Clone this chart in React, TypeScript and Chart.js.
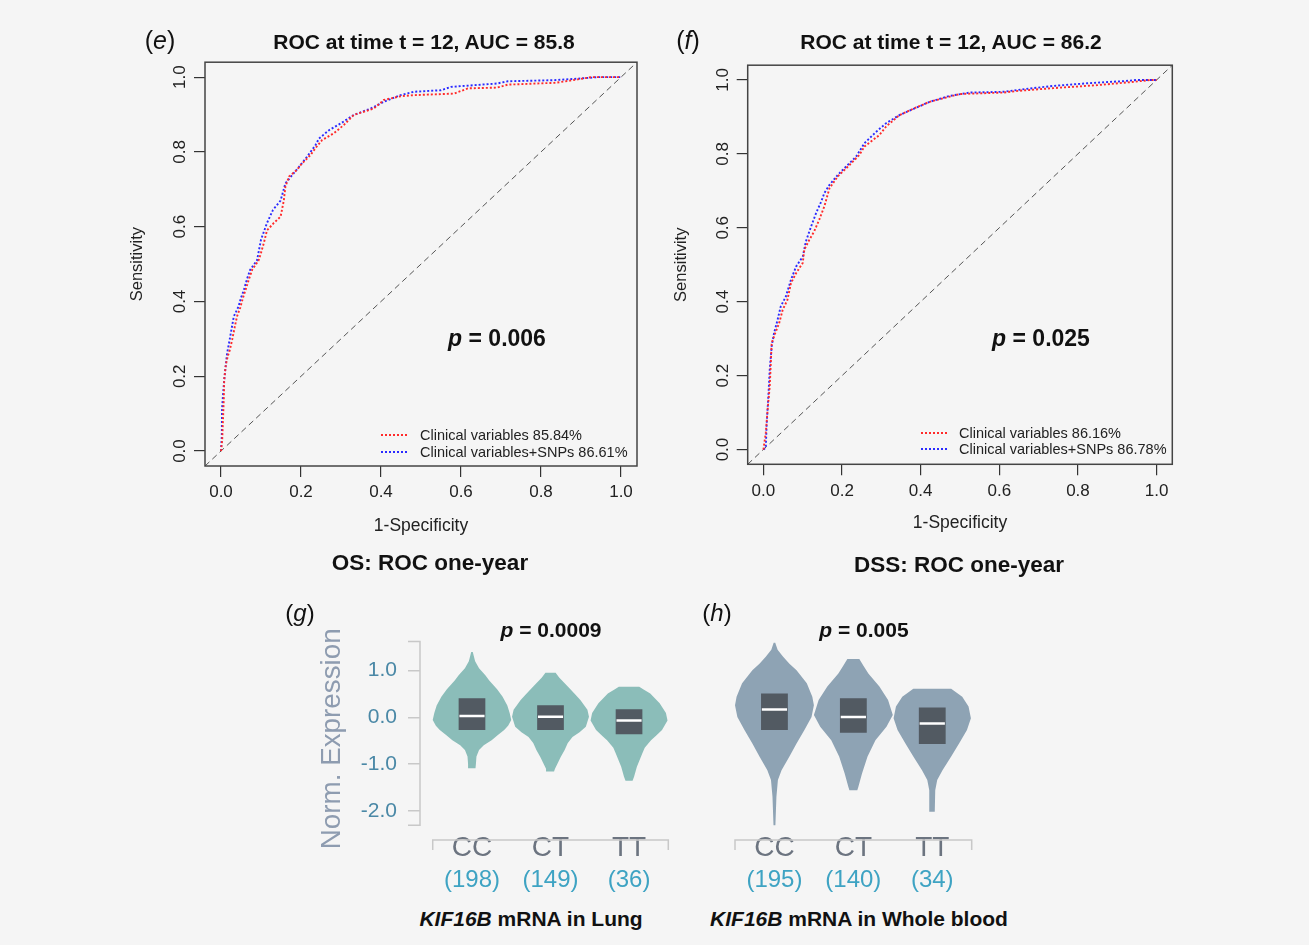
import React, { useEffect, useRef } from 'react';
import { Chart, registerables } from 'chart.js';

Chart.register(...registerables);

const FONT = '"Liberation Sans", Arial, Helvetica, sans-serif';
Chart.defaults.font.family = FONT;

// ---------- ROC data ----------
const ROC_TICKS = [0, 0.2, 0.4, 0.6, 0.8, 1.0];
const ROC_RANGE = [-0.04, 1.04];

const E_RED_X = [0, 0.003, 0.005, 0.007, 0.008, 0.012, 0.017, 0.022, 0.028, 0.034, 0.04, 0.048, 0.055, 0.061, 0.07, 0.078, 0.094, 0.1, 0.107, 0.115, 0.132, 0.149, 0.157, 0.161, 0.17, 0.19, 0.199, 0.224, 0.236, 0.253, 0.282, 0.307, 0.332, 0.382, 0.407, 0.449, 0.483, 0.583, 0.617, 0.69, 0.717, 0.837, 0.892, 0.925, 1.0];
const E_RED_Y = [0, 0.03, 0.085, 0.14, 0.19, 0.23, 0.254, 0.27, 0.298, 0.33, 0.36, 0.383, 0.41, 0.43, 0.46, 0.485, 0.51, 0.53, 0.556, 0.59, 0.61, 0.627, 0.67, 0.707, 0.734, 0.752, 0.765, 0.792, 0.81, 0.832, 0.85, 0.872, 0.899, 0.916, 0.939, 0.949, 0.952, 0.956, 0.97, 0.972, 0.98, 0.985, 0.994, 1.0, 1.0];
const E_BLUE_X = [0, 0.002, 0.0025, 0.005, 0.008, 0.015, 0.022, 0.032, 0.044, 0.05, 0.057, 0.065, 0.073, 0.09, 0.1, 0.115, 0.13, 0.149, 0.161, 0.178, 0.199, 0.215, 0.236, 0.245, 0.27, 0.299, 0.332, 0.374, 0.407, 0.449, 0.483, 0.55, 0.575, 0.69, 0.717, 0.834, 0.892, 0.942, 1.0];
const E_BLUE_Y = [0, 0.04, 0.11, 0.15, 0.19, 0.26, 0.3, 0.36, 0.387, 0.41, 0.43, 0.46, 0.485, 0.51, 0.565, 0.61, 0.645, 0.67, 0.716, 0.738, 0.765, 0.787, 0.818, 0.836, 0.858, 0.876, 0.899, 0.916, 0.934, 0.952, 0.961, 0.965, 0.974, 0.983, 0.989, 0.992, 0.996, 1.0, 1.0];

const F_RED_X = [0, 0.006, 0.01, 0.016, 0.018, 0.021, 0.03, 0.04, 0.049, 0.061, 0.07, 0.083, 0.1, 0.104, 0.117, 0.129, 0.142, 0.155, 0.168, 0.189, 0.219, 0.244, 0.257, 0.295, 0.312, 0.346, 0.389, 0.423, 0.474, 0.5, 0.61, 0.653, 0.738, 0.849, 0.942, 0.985, 1.0];
const F_RED_Y = [0, 0.045, 0.099, 0.171, 0.216, 0.288, 0.315, 0.342, 0.378, 0.405, 0.45, 0.477, 0.505, 0.541, 0.568, 0.59, 0.622, 0.658, 0.707, 0.739, 0.77, 0.797, 0.82, 0.851, 0.874, 0.905, 0.926, 0.941, 0.955, 0.962, 0.966, 0.971, 0.978, 0.986, 0.995, 1.0, 1.0];
const F_BLUE_X = [0, 0.006, 0.008, 0.013, 0.016, 0.021, 0.027, 0.036, 0.044, 0.057, 0.07, 0.083, 0.1, 0.108, 0.121, 0.134, 0.147, 0.155, 0.168, 0.189, 0.219, 0.236, 0.257, 0.287, 0.312, 0.346, 0.38, 0.423, 0.474, 0.525, 0.61, 0.678, 0.738, 0.823, 0.917, 0.95, 1.0];
const F_BLUE_Y = [0, 0.005, 0.063, 0.153, 0.216, 0.28, 0.315, 0.351, 0.387, 0.414, 0.459, 0.495, 0.522, 0.563, 0.603, 0.64, 0.671, 0.694, 0.716, 0.743, 0.775, 0.793, 0.829, 0.86, 0.883, 0.905, 0.921, 0.941, 0.957, 0.966, 0.968, 0.977, 0.984, 0.991, 0.997, 1.0, 1.0];

// ---------- Violin data ----------
const CATEGORIES = ['CC', 'CT', 'TT'];
const G_COUNTS = ['(198)', '(149)', '(36)'];
const H_COUNTS = ['(195)', '(140)', '(34)'];
const V_YTICKS = [1, 0, -1, -2];
const V_AXIS_MAX = 1.62;
const V_AXIS_MIN = -2.31;
const V_SCALE_MIN = -2.54;

const G_CC_Y = [1.4, 1.2, 1.05, 0.9, 0.79, 0.6, 0.44, 0.25, 0.09, -0.06, -0.18, -0.27, -0.38, -0.49, -0.6, -0.7, -0.84, -1.0, -1.09];
const G_CC_W = [0.01, 0.04, 0.09, 0.17, 0.22, 0.32, 0.39, 0.45, 0.48, 0.5, 0.46, 0.41, 0.33, 0.25, 0.15, 0.09, 0.057, 0.05, 0.045];
const G_CT_Y = [0.955, 0.85, 0.66, 0.5, 0.37, 0.16, 0.01, -0.2, -0.32, -0.42, -0.55, -0.7, -0.85, -0.99, -1.1, -1.16];
const G_CT_W = [0.065, 0.11, 0.22, 0.31, 0.38, 0.47, 0.49, 0.45, 0.37, 0.28, 0.22, 0.18, 0.13, 0.09, 0.057, 0.045];
const G_TT_Y = [0.655, 0.6, 0.51, 0.3, 0.09, -0.07, -0.27, -0.4, -0.49, -0.65, -0.77, -1.06, -1.27, -1.36];
const G_TT_W = [0.13, 0.18, 0.27, 0.39, 0.47, 0.49, 0.42, 0.34, 0.28, 0.2, 0.17, 0.1, 0.064, 0.045];
const G_Q1 = [-0.27, -0.27, -0.36];
const G_Q3 = [0.41, 0.26, 0.17];
const G_MED = [0.03, 0.01, -0.07];

const H_CC_Y = [1.6, 1.45, 1.3, 1.15, 1.01, 0.73, 0.44, 0.26, 0.01, -0.27, -0.56, -0.84, -1.13, -1.34, -1.7, -2.31];
const H_CC_W = [0.01, 0.04, 0.11, 0.19, 0.28, 0.41, 0.48, 0.5, 0.47, 0.38, 0.28, 0.19, 0.09, 0.044, 0.025, 0.012];
const H_CT_Y = [1.25, 1.1, 0.94, 0.66, 0.37, 0.05, -0.2, -0.49, -0.84, -1.2, -1.49, -1.56];
const H_CT_W = [0.076, 0.13, 0.19, 0.33, 0.44, 0.5, 0.42, 0.28, 0.18, 0.11, 0.063, 0.05];
const H_TT_Y = [0.61, 0.44, 0.23, -0.02, -0.27, -0.56, -0.84, -1.13, -1.34, -1.56, -2.02];
const H_TT_W = [0.24, 0.38, 0.46, 0.49, 0.44, 0.34, 0.24, 0.13, 0.063, 0.038, 0.032];
const H_Q1 = [-0.27, -0.33, -0.57];
const H_Q3 = [0.51, 0.41, 0.21];
const H_MED = [0.17, 0.01, -0.13];

const BOX_HALF = 0.17;

type Pt = { x: number; y: number };
const zip = (xs: number[], ys: number[]): Pt[] => xs.map((x, i) => ({ x, y: ys[i] }));

function violinOutline(c: number, ys: number[], ws: number[]): Pt[] {
  const right = ys.map((y, i) => ({ x: c + ws[i], y }));
  const left = ys.map((y, i) => ({ x: c - ws[i], y })).reverse();
  return [...right, ...left, right[0]];
}
function boxOutline(c: number, q1: number, q3: number): Pt[] {
  return [
    { x: c - BOX_HALF, y: q1 },
    { x: c + BOX_HALF, y: q1 },
    { x: c + BOX_HALF, y: q3 },
    { x: c - BOX_HALF, y: q3 },
    { x: c - BOX_HALF, y: q1 },
  ];
}

const boxPlugin = {
  id: 'rocBox',
  afterDatasetsDraw(chart: any) {
    const { ctx, chartArea: a } = chart;
    ctx.save();
    ctx.strokeStyle = '#444444';
    ctx.lineWidth = 1.5;
    ctx.strokeRect(a.left, a.top, a.right - a.left, a.bottom - a.top);
    ctx.restore();
  },
};

function RocChart(props: any) {
  const ref = useRef<HTMLCanvasElement>(null);
  const p = props;
  useEffect(() => {
    const chart = new Chart(ref.current as HTMLCanvasElement, {
      type: 'line',
      data: {
        datasets: [
          { data: zip(p.redX, p.redY), borderColor: '#ff2a2a', borderWidth: 1.9, borderDash: [2, 2], pointRadius: 0, fill: false, tension: 0 },
          { data: zip(p.blueX, p.blueY), borderColor: '#2a2aff', borderWidth: 1.9, borderDash: [2, 2], pointRadius: 0, fill: false, tension: 0 },
          { data: zip(ROC_RANGE, ROC_RANGE), borderColor: '#555555', borderWidth: 1, borderDash: [6, 4], pointRadius: 0, fill: false },
        ],
      },
      options: {
        responsive: false,
        animation: false,
        events: [],
        layout: { padding: { left: 0, top: p.padTop, right: p.padRight, bottom: 0 } },
        plugins: { legend: { display: false }, tooltip: { enabled: false } },
        scales: {
          x: {
            type: 'linear',
            min: ROC_RANGE[0],
            max: ROC_RANGE[1],
            afterBuildTicks: (s: any) => { s.ticks = ROC_TICKS.map((v) => ({ value: v })); },
            afterFit: (s: any) => { s.height = p.xAxisH; },
            grid: { drawOnChartArea: false, drawTicks: true, tickLength: 11, color: '#333', lineWidth: 1.2 },
            border: { display: false },
            ticks: { padding: p.xTickPad, color: '#222', font: { size: 17 }, callback: (v: any) => Number(v).toFixed(1), minRotation: 0, maxRotation: 0, autoSkip: false },
            title: { display: true, text: '1-Specificity', color: '#222', font: { size: 17.5 }, padding: { top: 0, bottom: p.xTitlePad } },
          },
          y: {
            type: 'linear',
            min: ROC_RANGE[0],
            max: ROC_RANGE[1],
            afterBuildTicks: (s: any) => { s.ticks = ROC_TICKS.map((v) => ({ value: v })); },
            afterFit: (s: any) => { s.width = p.yAxisW; },
            grid: { drawOnChartArea: false, drawTicks: true, tickLength: 11, color: '#333', lineWidth: 1.2 },
            border: { display: false },
            ticks: { padding: p.yTickPad, color: '#222', font: { size: 17 }, callback: (v: any) => Number(v).toFixed(1), minRotation: 90, maxRotation: 90, crossAlign: 'center', autoSkip: false },
            title: { display: true, text: 'Sensitivity', color: '#222', font: { size: 16.5 }, padding: { top: p.yTitlePad, bottom: 0 } },
          },
        },
      } as any,
      plugins: [boxPlugin],
    });
    return () => chart.destroy();
  }, []);
  return <canvas ref={ref} width={p.width} height={p.height} style={{ position: 'absolute', left: p.left, top: p.top }} />;
}

function ViolinChart(props: any) {
  const ref = useRef<HTMLCanvasElement>(null);
  const p = props;
  useEffect(() => {
    const shapes = [
      violinOutline(0, p.ccY, p.ccW),
      violinOutline(1, p.ctY, p.ctW),
      violinOutline(2, p.ttY, p.ttW),
    ];
    const medians = p.med.map((m: number, i: number) => ({
      data: [{ x: i - BOX_HALF + 0.01, y: m }, { x: i + BOX_HALF - 0.01, y: m }],
      borderColor: '#ffffff', borderWidth: 2.5, pointRadius: 0, fill: false, order: 0,
    }));
    const boxes = p.q1.map((q: number, i: number) => ({
      data: boxOutline(i, q, p.q3[i]),
      borderWidth: 0, backgroundColor: '#525a62', borderColor: '#525a62', pointRadius: 0, fill: 'shape', order: 1,
    }));
    const violins = shapes.map((s) => ({
      data: s, borderWidth: 0, backgroundColor: p.color, borderColor: p.color, pointRadius: 0, fill: 'shape', order: 2,
    }));
    const bracket = {
      id: 'bracket',
      afterDraw(chart: any) {
        const { ctx, chartArea: a, scales } = chart;
        const xs = scales.x;
        const ys = scales.y;
        ctx.save();
        ctx.strokeStyle = '#c8c8c8';
        ctx.lineWidth = 1.5;
        const yb = a.bottom + 4;
        const x0 = xs.getPixelForValue(-0.5);
        const x1 = xs.getPixelForValue(2.5);
        ctx.beginPath();
        ctx.moveTo(x0, yb + 10);
        ctx.lineTo(x0, yb);
        ctx.lineTo(x1, yb);
        ctx.lineTo(x1, yb + 10);
        ctx.stroke();
        if (p.showY) {
          const yt = ys.getPixelForValue(V_AXIS_MAX);
          const ybt = ys.getPixelForValue(V_AXIS_MIN);
          ctx.beginPath();
          ctx.moveTo(a.left - 12, yt);
          ctx.lineTo(a.left, yt);
          ctx.lineTo(a.left, ybt);
          ctx.lineTo(a.left - 12, ybt);
          ctx.stroke();
        }
        ctx.restore();
      },
    };
    const chart = new Chart(ref.current as HTMLCanvasElement, {
      type: 'line',
      data: { datasets: [...medians, ...boxes, ...violins] },
      options: {
        responsive: false,
        animation: false,
        events: [],
        layout: { padding: { left: p.padLeft, top: p.padTop, right: p.padRight, bottom: 0 } },
        plugins: { legend: { display: false }, tooltip: { enabled: false } },
        elements: { line: { tension: 0 } },
        scales: {
          x: {
            type: 'linear',
            min: p.xMin,
            max: 2.5,
            weight: 0,
            afterBuildTicks: (s: any) => { s.ticks = [0, 1, 2].map((v) => ({ value: v })); },
            afterFit: (s: any) => { s.height = 28; },
            grid: { display: false, drawTicks: false },
            border: { display: false },
            ticks: { padding: -5, color: '#6c7480', font: { size: 28 }, callback: (v: any) => CATEGORIES[Math.round(Number(v))], minRotation: 0, maxRotation: 0, autoSkip: false },
          },
          x2: {
            type: 'linear',
            position: 'bottom',
            min: p.xMin,
            max: 2.5,
            weight: 1,
            afterBuildTicks: (s: any) => { s.ticks = [0, 1, 2].map((v) => ({ value: v })); },
            afterFit: (s: any) => { s.height = 36; },
            grid: { display: false, drawTicks: false },
            border: { display: false },
            ticks: { padding: 1.5, color: '#3ea3c3', font: { size: 24 }, callback: (v: any) => p.counts[Math.round(Number(v))], minRotation: 0, maxRotation: 0, autoSkip: false },
          },
          y: {
            type: 'linear',
            display: p.showY,
            min: V_SCALE_MIN,
            max: V_AXIS_MAX,
            afterBuildTicks: (s: any) => { s.ticks = V_YTICKS.map((v) => ({ value: v })); },
            afterFit: (s: any) => { s.width = p.yAxisW; },
            grid: { drawOnChartArea: false, drawTicks: true, tickLength: 12, color: '#c8c8c8', lineWidth: 1.5 },
            border: { display: false },
            ticks: { padding: 11, color: '#4a88a6', font: { size: 21 }, callback: (v: any) => Number(v).toFixed(1), autoSkip: false },
            title: { display: true, text: 'Norm. Expression', color: '#8e9cb0', font: { size: 27.8 }, padding: { top: 16, bottom: 0 } },
          },
        },
      } as any,
      plugins: [bracket],
    });
    return () => chart.destroy();
  }, []);
  return <canvas ref={ref} width={p.width} height={p.height} style={{ position: 'absolute', left: p.left, top: p.top }} />;
}

function T(props: any) {
  const { x, y, size, bold, color = '#111', anchor = 'center', children } = props;
  return (
    <div
      style={{
        position: 'absolute',
        left: x,
        top: y,
        transform: anchor === 'center' ? 'translate(-50%, -50%)' : 'translate(0, -50%)',
        fontSize: size,
        fontWeight: bold ? 'bold' : 'normal',
        color,
        whiteSpace: 'nowrap',
        fontFamily: FONT,
        lineHeight: 1,
      }}
    >
      {children}
    </div>
  );
}

function LegendLine({ x, y, color }: any) {
  return (
    <div
      style={{
        position: 'absolute',
        left: x,
        top: y - 1,
        width: 26,
        height: 2,
        background: `repeating-linear-gradient(to right, ${color} 0px, ${color} 2px, transparent 2px, transparent 4px)`,
      }}
    />
  );
}

export default function App() {
  return (
    <div style={{ position: 'fixed', left: 0, top: 0, width: 1309, height: 945, background: '#f5f5f5', overflow: 'hidden', fontFamily: FONT }}>
      <RocChart
        left={115} top={50} width={540} height={500}
        padTop={12} padRight={18} yAxisW={90} xAxisH={84}
        yTitlePad={13} yTickPad={2} xTickPad={5.5} xTitlePad={13}
        redX={E_RED_X} redY={E_RED_Y} blueX={E_BLUE_X} blueY={E_BLUE_Y}
      />
      <RocChart
        left={657} top={53} width={540} height={497}
        padTop={12} padRight={24.7} yAxisW={90.7} xAxisH={85.7}
        yTitlePad={15} yTickPad={2} xTickPad={6.2} xTitlePad={16.5}
        redX={F_RED_X} redY={F_RED_Y} blueX={F_BLUE_X} blueY={F_BLUE_Y}
      />
      <ViolinChart
        left={300} top={618} width={380} height={282}
        padLeft={0} padTop={0} padRight={11.7} yAxisW={120} xMin={-0.662} showY={true}
        color="#8bbdb9" counts={G_COUNTS}
        ccY={G_CC_Y} ccW={G_CC_W} ctY={G_CT_Y} ctW={G_CT_W} ttY={G_TT_Y} ttW={G_TT_W}
        q1={G_Q1} q3={G_Q3} med={G_MED}
      />
      <ViolinChart
        left={700} top={630} width={285} height={270}
        padLeft={35} padTop={11.7} padRight={13.3} yAxisW={0} xMin={-0.5} showY={false}
        color="#8ea3b4" counts={H_COUNTS}
        ccY={H_CC_Y} ccW={H_CC_W} ctY={H_CT_Y} ctW={H_CT_W} ttY={H_TT_Y} ttW={H_TT_W}
        q1={H_Q1} q3={H_Q3} med={H_MED}
      />

      <T x={160} y={40} size={25}>(<i>e</i>)</T>
      <T x={424} y={41} size={21} bold>ROC at time t = 12, AUC = 85.8</T>
      <T x={497} y={338} size={23} bold><i>p</i> = 0.006</T>
      <LegendLine x={381} y={435} color="#ff2a2a" />
      <LegendLine x={381} y={452} color="#2a2aff" />
      <T x={420} y={435} size={14.5} anchor="left" color="#222">Clinical variables 85.84%</T>
      <T x={420} y={452} size={14.5} anchor="left" color="#222">Clinical variables+SNPs 86.61%</T>
      <T x={430} y={563} size={22.5} bold>OS: ROC one-year</T>

      <T x={688} y={40} size={25}>(<i>f</i>)</T>
      <T x={951} y={41} size={21} bold>ROC at time t = 12, AUC = 86.2</T>
      <T x={1041} y={338} size={23} bold><i>p</i> = 0.025</T>
      <LegendLine x={921} y={433} color="#ff2a2a" />
      <LegendLine x={921} y={449} color="#2a2aff" />
      <T x={959} y={433} size={14.5} anchor="left" color="#222">Clinical variables 86.16%</T>
      <T x={959} y={449} size={14.5} anchor="left" color="#222">Clinical variables+SNPs 86.78%</T>
      <T x={959} y={565} size={22.5} bold>DSS: ROC one-year</T>

      <T x={300} y={613} size={24}>(<i>g</i>)</T>
      <T x={551} y={629} size={21} bold><i>p</i> = 0.0009</T>
      <T x={531} y={918} size={21} bold><i>KIF16B</i> mRNA in Lung</T>

      <T x={717} y={613} size={24}>(<i>h</i>)</T>
      <T x={864} y={629} size={21} bold><i>p</i> = 0.005</T>
      <T x={859} y={918} size={21} bold><i>KIF16B</i> mRNA in Whole blood</T>
    </div>
  );
}
